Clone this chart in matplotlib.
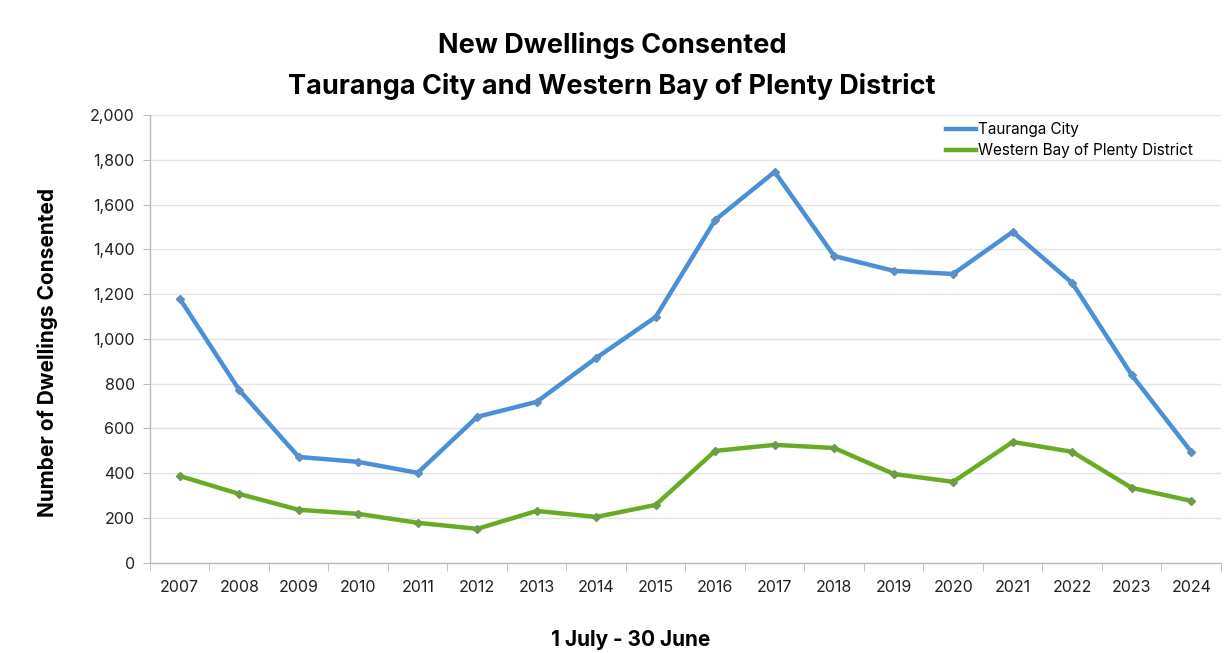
import matplotlib
matplotlib.use("Agg")
import matplotlib.pyplot as plt
import numpy as np

years = ["2007", "2008", "2009", "2010", "2011", "2012", "2013", "2014", "2015",
         "2016", "2017", "2018", "2019", "2020", "2021", "2022", "2023", "2024"]
tauranga = [1180, 772, 473, 451, 402, 652, 719, 915, 1098,
            1531, 1746, 1370, 1304, 1290, 1478, 1250, 839, 496]
western_bay = [388, 308, 237, 219, 179, 152, 232, 205, 259,
               500, 527, 513, 397, 362, 540, 496, 335, 277]
yticks = [0, 200, 400, 600, 800, 1000, 1200, 1400, 1600, 1800, 2000]

plt.rcParams['font.family'] = ['Inter', 'DejaVu Sans']

fig = plt.figure(figsize=(12.24, 6.53), dpi=100)
ax = fig.add_axes([0.1225, 0.138, 0.875, 0.686])

x = np.arange(len(years))
ax.plot(x, tauranga, color="#4b8fd6", lw=3.2, marker="D", ms=4.5,
        mfc="#5d8fc4", mec="#5d8fc4", label="Tauranga City", zorder=3)
ax.plot(x, western_bay, color="#6aab24", lw=3.2, marker="D", ms=4.5,
        mfc="#6f9a4a", mec="#6f9a4a", label="Western Bay of Plenty District", zorder=3)

ax.set_xlim(-0.5, len(years) - 0.5)
ax.set_ylim(0, 2000)
ax.set_yticks(yticks)
ax.set_yticklabels([f"{v:,}" for v in yticks], fontsize=11.5, color="#222222")
ax.set_xticks(x)
ax.set_xticklabels(years, fontsize=11.5, color="#222222")
ax.set_xticks(np.arange(-0.5, len(years), 1), minor=True)
ax.tick_params(axis="x", which="major", length=0, pad=12)
ax.tick_params(axis="x", which="minor", length=6, color="#bbbbbb")
ax.tick_params(axis="y", length=5, color="#bbbbbb", pad=6)

ax.grid(axis="y", color="#e4e4e4", lw=1)
ax.set_axisbelow(True)
for s in ["top", "right"]:
    ax.spines[s].set_visible(False)
for s in ["left", "bottom"]:
    ax.spines[s].set_color("#bbbbbb")
    ax.spines[s].set_linewidth(1)

ax.set_ylabel("Number of Dwellings Consented", fontsize=15, fontweight="bold")
ax.yaxis.set_label_coords(-0.086, 0.47)
fig.text(0.515, 0.02, "1 July - 30 June", ha="center", va="center",
         fontsize=15, fontweight="bold")
fig.text(0.5, 0.93, "New Dwellings Consented", ha="center", va="center",
         fontsize=19.5, fontweight="bold")
fig.text(0.5, 0.868, "Tauranga City and Western Bay of Plenty District", ha="center",
         va="center", fontsize=19.5, fontweight="bold")

leg = ax.legend(loc="upper left", bbox_to_anchor=(0.73, 1.015), frameon=False,
                fontsize=11, handlelength=2.0, handletextpad=0.1, labelspacing=0.4)
for h in leg.legend_handles:
    h.set_marker("")

fig.savefig("out.png", dpi=100, facecolor="white")
